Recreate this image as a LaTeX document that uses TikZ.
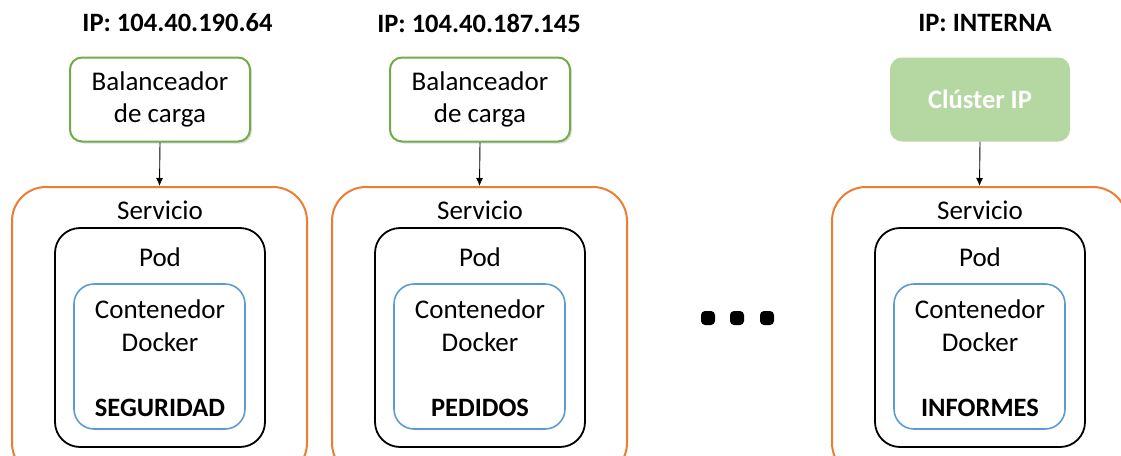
\documentclass[tikz,border=0pt]{standalone}
\usepackage{fontspec}
\setmainfont{Carlito}
\usetikzlibrary{arrows.meta,shadows}
\definecolor{cgreen}{HTML}{70AD47}
\definecolor{corange}{HTML}{ED7D31}
\definecolor{cblue}{HTML}{5B9BD5}
\definecolor{cfill}{HTML}{B5D7A1}
\tikzset{
  bal/.style={draw=cgreen, line width=2pt, rounded corners=12pt, minimum width=180pt, minimum height=84pt, align=center, fill=white, drop shadow={opacity=0.25, shadow xshift=2pt, shadow yshift=-2pt}},
  clus/.style={fill=cfill, rounded corners=12pt, minimum width=180pt, minimum height=84pt, text=white, font=\fontsize{26.5}{32}\selectfont\bfseries},
  serv/.style={draw=corange, line width=2pt, rounded corners=34pt, minimum width=295pt, minimum height=290pt, inner sep=0pt},
  podbox/.style={draw=black, line width=1.8pt, rounded corners=25pt, minimum width=210pt, minimum height=219pt, inner sep=0pt},
  cont/.style={draw=cblue, line width=1.6pt, rounded corners=20pt, minimum width=171pt, minimum height=145pt, inner sep=0pt},
  txt/.style={align=center, inner sep=0pt},
  btxt/.style={align=center, inner sep=0pt, font=\fontsize{26.5}{32}\selectfont\bfseries},
  conn/.style={-{Latex[length=8pt,width=7pt]}, line width=0.9pt},
  dot/.style={rounded corners=4pt, fill=black, minimum size=14pt, inner sep=0pt}
}
\newcommand\kcol[3]{%
  \node[serv] (serv#2) at (#1+159.5,332) {};
  \node[txt] (servt#2) at (#1+160,210) {Servicio};
  \node[podbox] (pod#2) at (#1+160,337.5) {};
  \node[txt] (podt#2) at (#1+160,257) {Pod};
  \node[cont] (cont#2) at (#1+159.5,356.5) {};
  \node[txt] (contt#2) at (#1+160,326) {Contenedor\\[1pt]Docker};
  \node[btxt] (name#2) at (#1+160,408) {#3};
}
\begin{document}
\begin{tikzpicture}[x=1pt,y=-1pt,font=\fontsize{27}{32}\selectfont]
\useasboundingbox (0,0) rectangle (1121,455);
\clip (0,0) rectangle (1121,455);
% column 1
\node[btxt] (ip1) at (177.5,23) {IP: 104.40.190.64};
\node[bal] (top1) at (160,99.5) {Balanceador\\de carga};
\kcol{0}{1}{SEGURIDAD}
\draw[conn] (top1.south) -- (serv1.north);
% column 2
\node[btxt] (ip2) at (479,23) {IP: 104.40.187.145};
\node[bal] (top2) at (480,99.5) {Balanceador\\de carga};
\kcol{320}{2}{PEDIDOS}
\draw[conn] (top2.south) -- (serv2.north);
% column 3
\node[btxt] (ip3) at (985,23) {IP: INTERNA};
\node[clus] (top3) at (980,99.5) {Clúster IP};
\kcol{820}{3}{INFORMES}
\draw[conn] (top3.south) -- (serv3.north);
% dots
\node[dot] (d1) at (708,318) {};
\node[dot] (d2) at (737,318) {};
\node[dot] (d3) at (767,318) {};
\end{tikzpicture}
\end{document}
